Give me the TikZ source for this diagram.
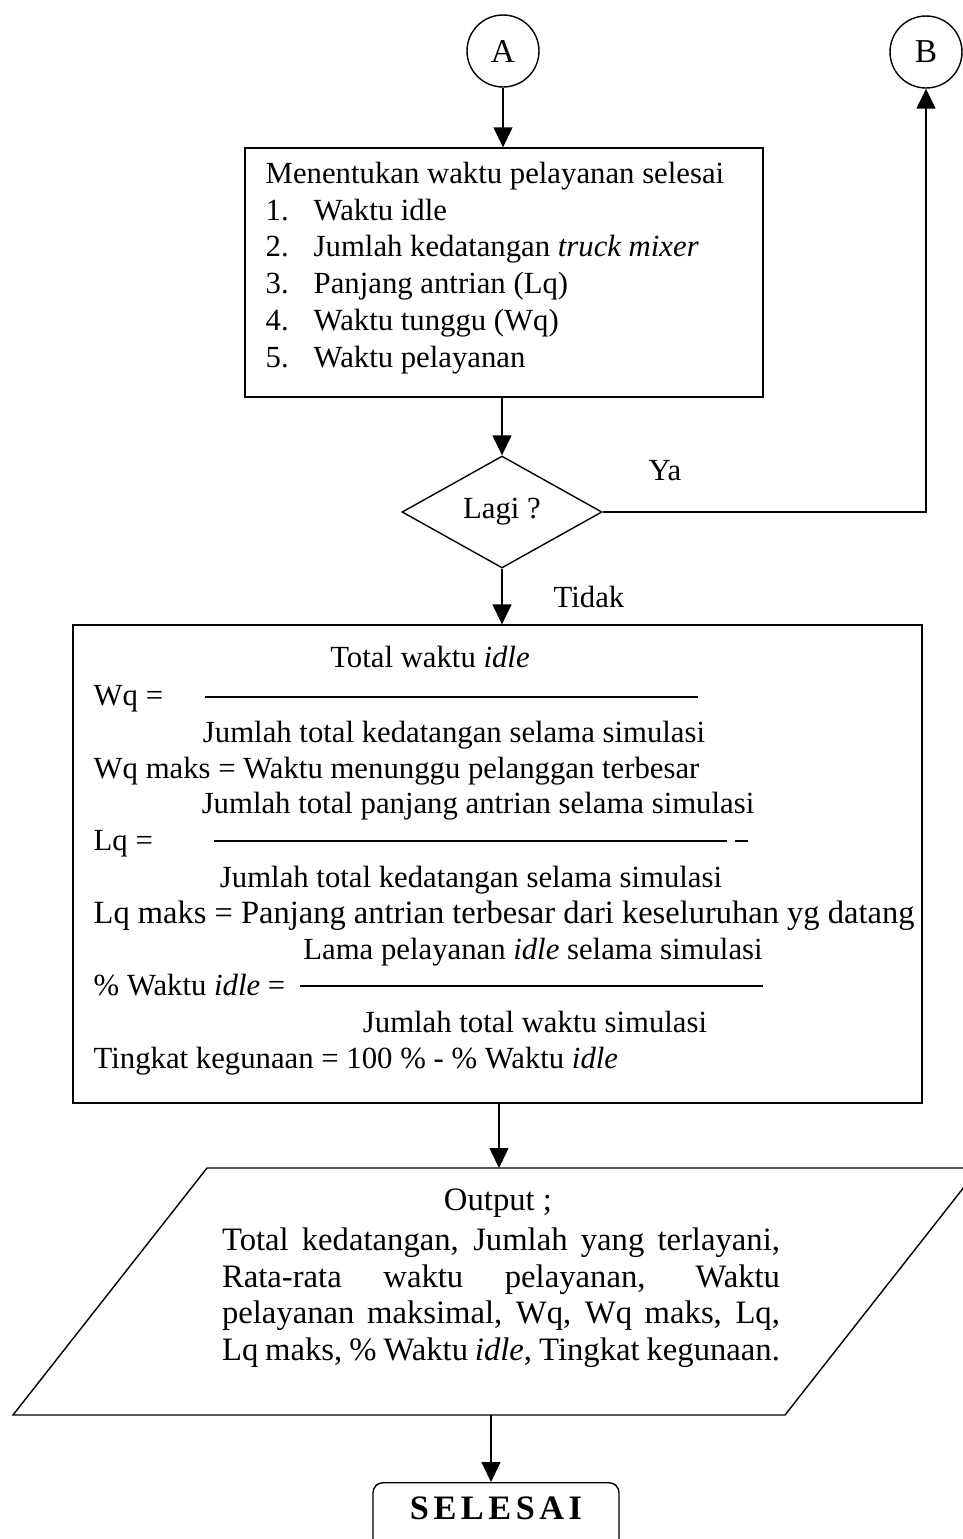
\documentclass[tikz,border=0pt]{standalone}
\usepackage{fontspec}
\setmainfont{Liberation Serif}
\usetikzlibrary{shapes.geometric,arrows.meta}

\begin{document}
\begin{tikzpicture}[x=0.02cm,y=-0.02cm,
  font=\fontsize{17.5}{21}\selectfont,
  line width=0.8pt,
  arr/.style={-{Triangle[length=0.4cm,width=0.38cm]}},
  conn/.style={draw,circle,minimum size=1.44cm,inner sep=0pt,font=\fontsize{19}{22}\selectfont},
  procbox/.style={draw,rectangle,inner sep=0pt},
  decision/.style={draw,diamond,inner sep=0pt,minimum width=4cm,minimum height=2.24cm},
  txt/.style={inner sep=0pt,anchor=base west},
  ctxt/.style={inner sep=0pt,anchor=base},
  outtxt/.style={inner sep=0pt,anchor=base,font=\fontsize{18.6}{22}\selectfont},
  fracline/.style={line width=0.7pt}]
\clip (0,0) rectangle (963,1539);

% connectors
\node[conn] (A) at (503,51) {A};
\node[conn] (B) at (926,52) {B};

% process box: end of service
\node[procbox,minimum width=10.36cm,minimum height=4.98cm] (proc) at (504,272.5) {};
\node[txt] (p0) at (265,183) {Menentukan waktu pelayanan selesai};
\node[txt] (n1) at (265,220) {1.};
\node[txt] (t1) at (313,220) {Waktu idle};
\node[txt] (n2) at (265,256) {2.};
\node[txt] (t2) at (313,256) {Jumlah kedatangan \textit{truck mixer}};
\node[txt] (n3) at (265,293) {3.};
\node[txt] (t3) at (313,293) {Panjang antrian (Lq)};
\node[txt] (n4) at (265,330) {4.};
\node[txt] (t4) at (313,330) {Waktu tunggu (Wq)};
\node[txt] (n5) at (265,367) {5.};
\node[txt] (t5) at (313,367) {Waktu pelayanan};

% decision
\node[decision] (dec) at (502,512) {Lagi ?};
\node[ctxt] (ya) at (665,480) {Ya};
\node[ctxt] (tidak) at (589,607) {Tidak};

% statistics box
\node[procbox,minimum width=16.98cm,minimum height=9.56cm] (stat) at (497.5,864) {};
\node[ctxt] (s1) at (430,667) {Total waktu \textit{idle}};
\node[txt] (s2) at (93,705) {Wq =};
\node[ctxt] (s3) at (454,742) {Jumlah total kedatangan selama simulasi};
\node[txt] (s4) at (93,778) {Wq maks = Waktu menunggu pelanggan terbesar};
\node[ctxt] (s5) at (478,813) {Jumlah total panjang antrian selama simulasi};
\node[txt] (s6) at (93,850) {Lq =};
\node[ctxt] (s7) at (471,887) {Jumlah total kedatangan selama simulasi};
\node[txt] (s8) at (93,923) {\fontsize{18.5}{21}\selectfont Lq maks = Panjang antrian terbesar dari keseluruhan yg datang};
\node[ctxt] (s9) at (533,959) {Lama pelayanan \textit{idle} selama simulasi};
\node[txt] (s10) at (93,995) {\% Waktu \textit{idle} =};
\node[ctxt] (s11) at (535,1032) {Jumlah total waktu simulasi};
\node[txt] (s12) at (93,1068) {Tingkat kegunaan = 100 \% - \% Waktu \textit{idle}};

% fraction bars
\draw[fracline] (205,697) -- (698,697);
\draw[fracline] (214,841) -- (727,841);
\draw[fracline] (735,841) -- (748,841);
\draw[fracline] (300,986) -- (763,986);

% output (parallelogram)
\draw (13,1415) -- (207,1168) -- (979,1168) -- (785,1415) -- cycle;
\coordinate (outtop) at (499,1168);
\coordinate (outbot) at (491,1415);
\node[outtxt] (o0) at (498,1210) {Output ;};
\node[outtxt] (o1) at (501,1250) {\makebox[11.16cm][s]{Total kedatangan, Jumlah yang terlayani,}};
\node[outtxt] (o2) at (501,1287) {\makebox[11.16cm][s]{Rata-rata waktu pelayanan, Waktu}};
\node[outtxt] (o3) at (501,1323) {\makebox[11.16cm][s]{pelayanan maksimal, Wq, Wq maks, Lq,}};
\node[outtxt] (o4) at (501,1360) {\makebox[11.16cm][s]{Lq maks, \% Waktu \textit{idle}, Tingkat kegunaan.}};

% terminator
\node[draw,rounded corners=0.2cm,anchor=north,minimum width=4.92cm,
      inner ysep=0pt,text height=0.73cm,text depth=1cm,
      font=\fontsize{19.5}{22}\selectfont\bfseries] (end) at (496,1482)
      {S\kern2.6pt E\kern2.6pt L\kern2.6pt E\kern2.6pt S\kern2.6pt A\kern2.6pt I};

% flow
\draw[arr] (A.south) -- (A.south |- proc.north);
\draw[arr] (dec.north |- proc.south) -- (dec.north);
\draw[arr] (dec.east) -| (B.south);
\draw[arr] (dec.south) -- (dec.south |- stat.north);
\draw[arr] (outtop |- stat.south) -- (outtop);
\draw[arr] (outbot) -- (outbot |- end.north);
\end{tikzpicture}
\end{document}
